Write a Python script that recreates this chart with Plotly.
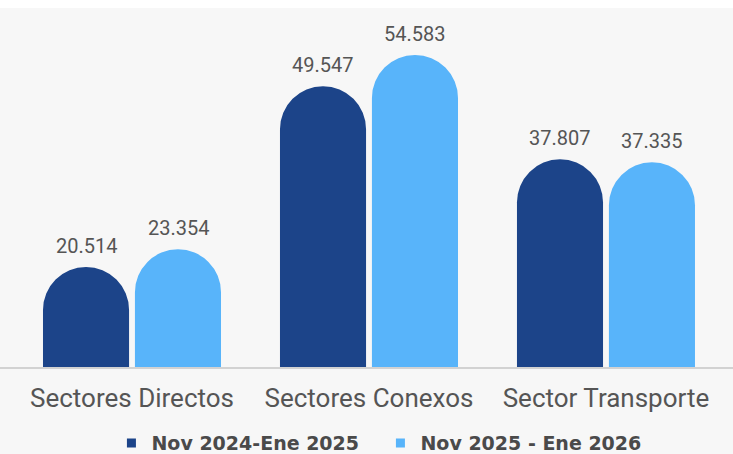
import plotly.graph_objects as go

categories = ["Sectores Directos", "Sectores Conexos", "Sector Transporte"]
series_names = ["Nov 2024-Ene 2025", "Nov 2025 - Ene 2026"]
values_2024 = [20514, 49547, 37807]
values_2025 = [23354, 54583, 37335]
colors = ["#1c4489", "#58b4fa"]

NARROW = "Roboto, sans-serif"


def fmt(v):
    return f"{v:,}".replace(",", ".")


fig = go.Figure()
for name, vals, col in zip(series_names, [values_2024, values_2025], colors):
    fig.add_trace(go.Bar(
        x=categories, y=vals, name=name, marker_color=col,
        marker_line_width=0, hoverinfo="skip", showlegend=False,
    ))
# legend entries with square markers
for name, col in zip(series_names, colors):
    fig.add_trace(go.Scatter(
        x=[None], y=[None], mode="markers", name=name,
        marker=dict(symbol="square", size=9, color=col),
    ))

annotations = []
for vals, shift in zip([values_2024, values_2025], [-46, 46]):
    for c, v in zip(categories, vals):
        annotations.append(dict(
            x=c, y=v, xref="x", yref="y", text=fmt(v), showarrow=False,
            xshift=shift, yshift=7, yanchor="bottom",
            font=dict(family=NARROW, size=20, color="#555555"),
        ))

fig.update_layout(
    width=733, height=454,
    margin=dict(l=0, r=0, t=8, b=87),
    paper_bgcolor="#f7f7f7", plot_bgcolor="#f7f7f7",
    barmode="group", bargap=0.224, bargroupgap=0.064,
    barcornerradius="50%",
    annotations=annotations,
    showlegend=True,
    legend=dict(
        orientation="h", xref="container", yref="container",
        x=0.519, xanchor="center", y=0.024, yanchor="middle",
        font=dict(family="DejaVu Sans", size=19, color="#4a4a4a", weight="bold"),
        itemwidth=30, entrywidth=224, bgcolor="rgba(0,0,0,0)",
    ),
    shapes=[dict(type="rect", xref="paper", yref="paper", x0=0, x1=1,
                 y0=1, y1=1.05, fillcolor="white", line_width=0, layer="below")],
    xaxis=dict(
        range=[-0.557, 2.536], showgrid=False, zeroline=False, automargin=False,
        showline=True, linecolor="#d2d2d2", linewidth=1.5,
        ticks="", ticklabelstandoff=7,
        tickfont=dict(family=NARROW, size=26, color="#555555"),
    ),
    yaxis=dict(range=[4450, 62120], visible=False, showgrid=False,
               zeroline=False, automargin=False),
)

fig.write_html("out.html", config={"displayModeBar": False},
               post_script="document.body.style.margin='0px';")
